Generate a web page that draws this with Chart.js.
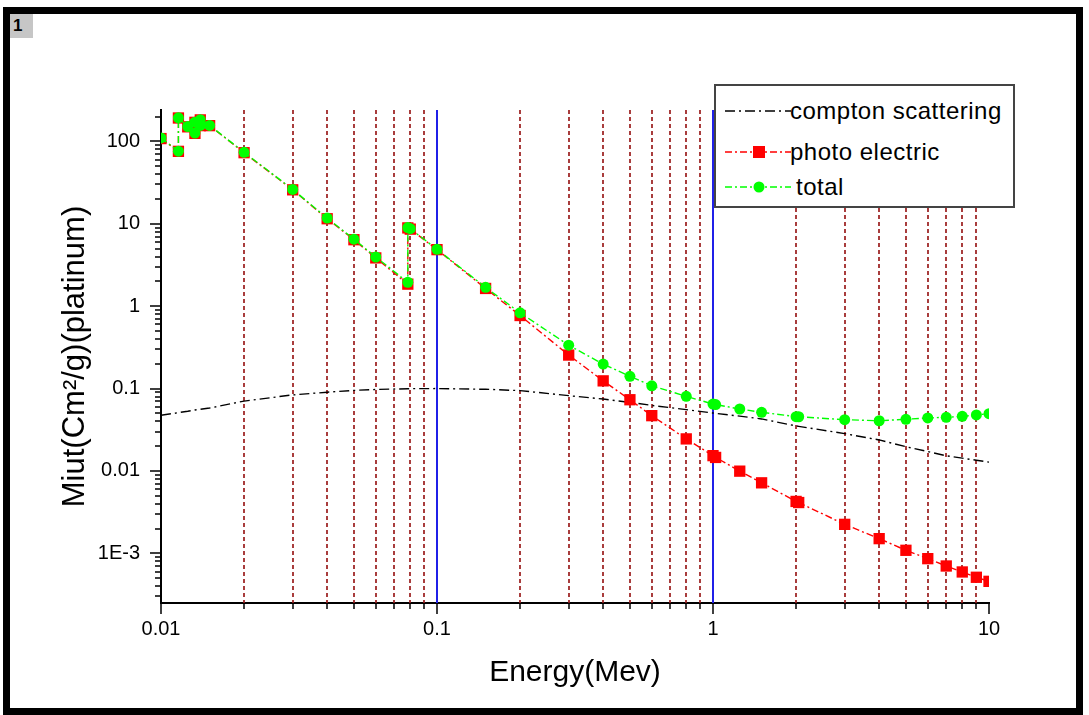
<!DOCTYPE html>
<html>
<head>
<meta charset="utf-8">
<script src="https://cdn.jsdelivr.net/npm/chart.js@4.4.1/dist/chart.umd.min.js"></script>
<style>
  body { margin: 0; background: #fff; font-family: "Liberation Sans", Arial, sans-serif; }
  #wrap { position: relative; width: 1089px; height: 715px; overflow: hidden; }
  #chart { position: absolute; left: 0; top: 0; }
  #frame { position: absolute; left: 3px; top: 7px; width: 1080px; height: 708px; box-sizing: border-box; border: 7px solid #000; pointer-events: none; }
  #tag { position: absolute; left: 10px; top: 14px; width: 23px; height: 24px; background: #c6c6c6; font: bold 17px "Liberation Sans", Arial, sans-serif; line-height: 24px; padding-left: 3px; box-sizing: border-box; }
  #legend { position: absolute; left: 714px; top: 84px; width: 301px; height: 124px; box-sizing: border-box; border: 2px solid #444; background: #fff; }
  .row { position: absolute; left: 0; height: 24px; }
  .row svg { position: absolute; left: 9px; top: 0; }
  .row span { position: absolute; left: 74px; top: 0; font-size: 24px; line-height: 24px; color: #000; white-space: nowrap; letter-spacing: 0.5px; }
</style>
</head>
<body>
<div id="wrap">
  <canvas id="chart" width="1089" height="715"></canvas>
  <div id="legend">
    <div class="row" style="top:13px">
      <svg width="66" height="24"><line x1="0" y1="12" x2="66" y2="12" stroke="#000" stroke-width="1.5" stroke-dasharray="10 4 2 4"/></svg>
      <span>compton scattering</span>
    </div>
    <div class="row" style="top:54px">
      <svg width="66" height="24"><line x1="0" y1="12" x2="66" y2="12" stroke="#f00" stroke-width="1.5" stroke-dasharray="7 3 2 3"/><rect x="28" y="6" width="12" height="12" fill="#f00"/></svg>
      <span>photo electric</span>
    </div>
    <div class="row" style="top:89px">
      <svg width="66" height="24"><line x1="0" y1="12" x2="66" y2="12" stroke="#0f0" stroke-width="1.5" stroke-dasharray="7 3 2 3"/><circle cx="34" cy="12" r="5.5" fill="#0f0"/></svg>
      <span style="left:80px">total</span>
    </div>
  </div>
  <div id="frame"></div>
  <div id="tag">1</div>
</div>
<script>
// energies in MeV (absorption edges appear twice)
const energy = [0.01, 0.011564, 0.011564, 0.0125, 0.013273, 0.013273, 0.01388, 0.01388, 0.015,
  0.02, 0.03, 0.04, 0.05, 0.06, 0.078395, 0.078395, 0.08, 0.1, 0.15, 0.2, 0.3, 0.4, 0.5, 0.6, 0.8,
  1, 1.022, 1.25, 1.5, 2, 2.044, 3, 4, 5, 6, 7, 8, 9, 10];

const photoElectric = [108, 75.6, 192, 150, 125, 170, 155, 182, 155,
  72.8, 25.8, 11.5, 6.4, 3.85, 1.85, 8.9, 8.6, 4.85, 1.64, 0.77, 0.255, 0.124, 0.0732, 0.0469, 0.0245,
  0.01535, 0.0146, 0.00995, 0.00718, 0.00427, 0.00414, 0.00225, 0.00151, 0.00109, 0.000863, 0.000703, 0.000595, 0.000513, 0.000458];

const total = [110, 76, 193, 151, 126, 171, 156, 183, 156,
  73.5, 26.1, 11.7, 6.5, 3.95, 1.95, 9.0, 8.7, 4.9, 1.69, 0.83, 0.336, 0.198, 0.141, 0.108, 0.0805,
  0.0649, 0.064, 0.0565, 0.0515, 0.0456, 0.0455, 0.0419, 0.0407, 0.0424, 0.044, 0.0448, 0.046, 0.0478, 0.0496];

const compton = [0.0475, 0.051, 0.051, 0.053, 0.055, 0.055, 0.056, 0.056, 0.058,
  0.0705, 0.0838, 0.0903, 0.095, 0.0975, 0.0995, 0.0995, 0.0997, 0.1, 0.098, 0.0945, 0.082, 0.0746, 0.068, 0.0625, 0.0555,
  0.0505, 0.05, 0.0463, 0.0428, 0.0352, 0.0348, 0.0284, 0.0238, 0.0197, 0.0172, 0.0153, 0.0143, 0.0135, 0.0128];

const xDecades = [0.01, 0.1, 1, 10];
const xTickLabels = ["0.01", "0.1", "1", "10"];
const yDecades = [0.001, 0.01, 0.1, 1, 10, 100];
const yTickLabels = ["1E-3", "0.01", "0.1", "1", "10", "100"];

const FONT = '"Liberation Sans", Arial, sans-serif';

function isDecade(v) {
  const l = Math.log10(v);
  return Math.abs(l - Math.round(l)) < 1e-6;
}

function logTicks(min, max) {
  const out = [];
  for (let e = Math.floor(Math.log10(min)); e <= Math.ceil(Math.log10(max)); e++) {
    for (let m = 1; m <= 9; m++) {
      const v = parseFloat((m * Math.pow(10, e)).toPrecision(6));
      if (v >= min * 0.999 && v <= max * 1.001) out.push({ value: v });
    }
  }
  return out;
}

function labelFor(decades, labels) {
  return (value) => {
    const i = decades.findIndex((d) => Math.abs(d - value) / d < 1e-6);
    return i >= 0 ? labels[i] : "";
  };
}

const pts = (ys) => energy.map((e, i) => ({ x: e, y: ys[i] }));

// vertical grid: blue solid at decades, dark red dashed elsewhere
const xGrid = {
  id: "xGrid",
  beforeDatasetsDraw(chart) {
    const { ctx, chartArea } = chart;
    const x = chart.scales.x;
    ctx.save();
    x.ticks.forEach((t) => {
      const v = t.value;
      if (v <= x.min * 1.0001 || v >= x.max * 0.9999) return;
      const px = Math.round(x.getPixelForValue(v));
      const dec = isDecade(v);
      ctx.strokeStyle = dec ? "#2020e8" : "#9a1c1c";
      ctx.lineWidth = dec ? 2 : 1.7;
      ctx.setLineDash(dec ? [] : [4, 3]);
      ctx.beginPath();
      ctx.moveTo(px, chartArea.top);
      ctx.lineTo(px, chartArea.bottom);
      ctx.stroke();
    });
    ctx.restore();
  },
};

// minor / major tick marks on the outside of both axes
const axisTicks = {
  id: "axisTicks",
  afterDraw(chart) {
    const { ctx } = chart;
    const x = chart.scales.x;
    const y = chart.scales.y;
    ctx.save();
    ctx.strokeStyle = "#000";
    ctx.lineWidth = 1.5;
    ctx.beginPath();
    x.ticks.forEach((t) => {
      const px = Math.round(x.getPixelForValue(t.value));
      ctx.moveTo(px, x.top);
      ctx.lineTo(px, x.top + (isDecade(t.value) ? 11 : 6));
    });
    y.ticks.forEach((t) => {
      const py = Math.round(y.getPixelForValue(t.value));
      ctx.moveTo(y.right, py);
      ctx.lineTo(y.right - (isDecade(t.value) ? 11 : 6), py);
    });
    ctx.stroke();
    ctx.restore();
  },
};

new Chart(document.getElementById("chart"), {
  type: "line",
  data: {
    datasets: [
      {
        label: "total",
        data: pts(total),
        order: 1,
        borderColor: "#00ff00",
        backgroundColor: "#00ff00",
        borderWidth: 1.4,
        borderDash: [7, 3, 2, 3],
        pointStyle: "circle",
        pointRadius: 5.5,
        pointBorderWidth: 0,
      },
      {
        label: "photo electric",
        data: pts(photoElectric),
        order: 2,
        borderColor: "#ff0000",
        backgroundColor: "#ff0000",
        borderWidth: 1.4,
        borderDash: [7, 3, 2, 3],
        pointStyle: "rect",
        pointRadius: 8,
        pointBorderWidth: 0,
      },
      {
        label: "compton scattering",
        data: pts(compton),
        order: 3,
        borderColor: "#000000",
        borderWidth: 1.4,
        borderDash: [10, 4, 2, 4],
        pointRadius: 0,
      },
    ],
  },
  options: {
    responsive: false,
    animation: false,
    layout: { padding: { left: 0, top: 110, right: 100, bottom: 0 } },
    plugins: { legend: { display: false }, tooltip: { enabled: false } },
    scales: {
      x: {
        type: "logarithmic",
        min: 0.01,
        max: 10,
        afterBuildTicks: (s) => { s.ticks = logTicks(0.01, 10); },
        afterFit: (s) => { s.height = 112; },
        grid: { display: false, drawTicks: false },
        border: { display: true, color: "#000", width: 2 },
        ticks: {
          autoSkip: false,
          maxRotation: 0,
          padding: 14,
          color: "#000",
          font: { family: FONT, size: 20 },
          callback: labelFor(xDecades, xTickLabels),
        },
        title: {
          display: true,
          text: "Energy(Mev)",
          color: "#000",
          font: { family: FONT, size: 30 },
          padding: { top: 0, bottom: 24 },
        },
      },
      y: {
        type: "logarithmic",
        min: 0.00025,
        max: 240,
        afterBuildTicks: (s) => { s.ticks = logTicks(0.00025, 240); },
        afterFit: (s) => { s.width = 161; },
        grid: { display: false, drawTicks: false },
        border: { display: true, color: "#000", width: 2 },
        ticks: {
          autoSkip: false,
          padding: 21,
          color: "#000",
          font: { family: FONT, size: 20 },
          callback: labelFor(yDecades, yTickLabels),
        },
        title: {
          display: true,
          text: "Miut(Cm²/g)(platinum)",
          color: "#000",
          font: { family: FONT, size: 31 },
          padding: { top: 57, bottom: 0 },
        },
      },
    },
  },
  plugins: [xGrid, axisTicks],
});
</script>
</body>
</html>
